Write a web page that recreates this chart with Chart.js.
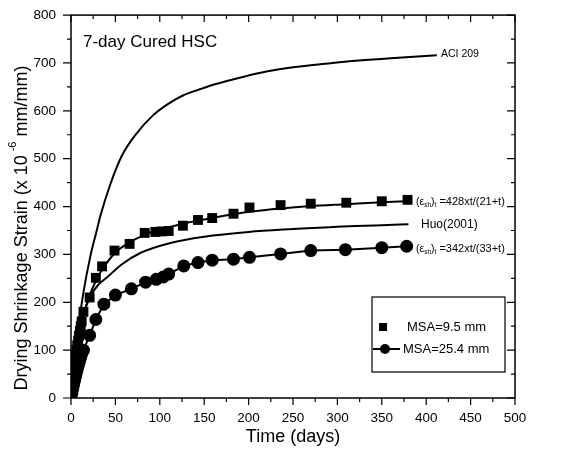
<!DOCTYPE html>
<html>
<head>
<meta charset="utf-8">
<script src="https://cdn.jsdelivr.net/npm/chart.js@4.4.1/dist/chart.umd.min.js"></script>
<style>
  html, body { margin: 0; padding: 0; background: #fff; }
  #wrap { width: 565px; height: 452px; }
</style>
</head>
<body>
<div id="wrap"><canvas id="shrink" width="565" height="452"></canvas></div>
<script>
// ── Datos ────────────────────────────────────────────────────
const aciDays = [0, 3, 7, 13.5, 22, 29, 33, 44, 57, 74, 92, 109, 126, 145, 161, 196, 220, 246, 290, 324, 360, 412];
const aciVals = [0, 62, 130, 215, 298, 350, 380, 445, 505, 553, 590, 614, 632, 645, 655, 672, 682, 690, 699, 705, 710, 716];

const huoDays = [0, 3, 7, 14, 22, 30, 40, 57, 78, 112, 150, 200, 250, 300, 350, 380];
const huoVals = [0, 55, 115, 175, 213, 235, 251, 279, 303, 324, 337, 347, 353, 358, 361, 363];

// curva ajustada 428xt/(21+t)
const fitDays = [0, 2, 5, 10, 14, 21, 28, 35, 49, 63, 84, 100, 126, 150, 183, 201, 236, 270, 310, 350, 379];
const fitVals = [0, 38, 82, 138, 172, 214, 245, 268, 302, 322, 342, 352, 364, 373, 384, 389, 396, 401, 405, 409, 411];

// MSA = 9.5 mm (cuadrados)
const sqDays = [1, 2, 3, 4, 5, 6, 7, 8, 9, 10, 11, 12, 14, 21, 28, 35, 49, 66, 83, 95, 102, 110, 126, 143, 159, 183, 201, 236, 270, 310, 350, 379];
const sqVals = [25, 45, 60, 75, 90, 100, 110, 120, 130, 140, 150, 160, 180, 210, 251, 275, 308, 322, 345, 347, 348, 349, 360, 372, 376, 385, 398, 403, 406, 408, 411, 414];

// MSA = 25.4 mm (círculos)
const ciDays = [0, 1, 2, 3, 4, 5, 6, 7, 8, 9, 10, 11, 12, 14, 21, 28, 37, 50, 68, 84, 96, 104, 110, 127, 143, 159, 183, 201, 236, 270, 309, 350, 378];
const ciVals = [0, 10, 20, 28, 36, 44, 52, 60, 67, 73, 80, 86, 92, 100, 131, 164, 196, 215, 228, 242, 248, 253, 259, 276, 283, 288, 290, 294, 301, 308, 310, 314, 317];

const xTicks = [0, 50, 100, 150, 200, 250, 300, 350, 400, 450, 500];
const yTicks = [0, 100, 200, 300, 400, 500, 600, 700, 800];

const FONT = "'Liberation Sans', Arial, Helvetica, sans-serif";

function pts(days, vals) {
  return days.map((d, i) => ({ x: d, y: vals[i] }));
}

function lineSet(label, days, vals) {
  return {
    label,
    data: pts(days, vals),
    showLine: true,
    borderColor: '#000',
    borderWidth: 2,
    pointRadius: 0,
    cubicInterpolationMode: 'monotone',
  };
}

// ── Texto con subíndices ─────────────────────────────────────
function richText(ctx, x, y, parts) {
  let cx = x;
  parts.forEach(p => {
    ctx.font = `${p.size}px ${FONT}`;
    ctx.fillText(p.t, cx, y + (p.dy || 0));
    cx += ctx.measureText(p.t).width;
  });
}

function formula(ctx, x, y, rest) {
  richText(ctx, x, y, [
    { t: '(ε', size: 10.5 },
    { t: 'sh', size: 6.5, dy: 3 },
    { t: ')', size: 10.5 },
    { t: 't', size: 6.5, dy: 3 },
    { t: ' ' + rest, size: 11 },
  ]);
}

// ── Marco, ticks y anotaciones ───────────────────────────────
const decor = {
  id: 'decor',
  afterDatasetsDraw(chart) {
    const { ctx, chartArea: a, scales: { x, y } } = chart;
    ctx.save();
    ctx.strokeStyle = '#000';
    ctx.fillStyle = '#000';

    ctx.lineWidth = 1.5;
    ctx.strokeRect(a.left, a.top, a.right - a.left, a.bottom - a.top);

    ctx.lineWidth = 1.2;
    ctx.beginPath();
    for (let d = 0; d <= 500; d += 25) {
      const px = x.getPixelForValue(d);
      const len = d % 50 === 0 ? 7 : 4;
      ctx.moveTo(px, a.bottom); ctx.lineTo(px, a.bottom + len);
      ctx.moveTo(px, a.top);    ctx.lineTo(px, a.top + len);
    }
    for (let v = 0; v <= 800; v += 50) {
      const py = y.getPixelForValue(v);
      const len = v % 100 === 0 ? 8 : 4;
      ctx.moveTo(a.left, py);  ctx.lineTo(a.left - len, py);
      ctx.moveTo(a.right, py); ctx.lineTo(a.right - len, py);
    }
    ctx.stroke();

    ctx.textBaseline = 'middle';
    ctx.textAlign = 'left';

    ctx.font = `17px ${FONT}`;
    ctx.fillText('7-day Cured HSC', 83, 42);

    ctx.font = `10.5px ${FONT}`;
    ctx.fillText('ACI 209', 441, 54);

    ctx.font = `12px ${FONT}`;
    ctx.fillText('Huo(2001)', 421, 225);

    formula(ctx, 416, 202, '=428xt/(21+t)');
    formula(ctx, 416, 249, '=342xt/(33+t)');

    // leyenda
    ctx.lineWidth = 1.2;
    ctx.strokeRect(372, 297, 133, 75);
    ctx.fillRect(379, 323, 8, 8);
    ctx.lineWidth = 2;
    ctx.beginPath();
    ctx.moveTo(373, 349); ctx.lineTo(400, 349);
    ctx.stroke();
    ctx.beginPath();
    ctx.arc(385, 349, 5, 0, Math.PI * 2);
    ctx.fill();
    ctx.font = `13px ${FONT}`;
    ctx.fillText('MSA=9.5 mm', 407, 327);
    ctx.fillText('MSA=25.4 mm', 403, 349);

    // títulos de ejes
    ctx.textAlign = 'center';
    ctx.font = `18px ${FONT}`;
    ctx.fillText('Time (days)', (a.left + a.right) / 2, 437);

    ctx.translate(22, 228);
    ctx.rotate(-Math.PI / 2);
    const main = 'Drying Shrinkage Strain (x 10';
    const tail = ' mm/mm)';
    ctx.font = `18px ${FONT}`;
    const wMain = ctx.measureText(main).width;
    const wTail = ctx.measureText(tail).width;
    ctx.font = `11px ${FONT}`;
    const wSup = ctx.measureText('-6').width;
    let sx = -(wMain + wSup + wTail + 4) / 2;
    ctx.textAlign = 'left';
    ctx.font = `18px ${FONT}`;
    ctx.fillText(main, sx, 0);
    sx += wMain + 4;
    ctx.font = `11px ${FONT}`;
    ctx.fillText('-6', sx, -9);
    sx += wSup;
    ctx.font = `18px ${FONT}`;
    ctx.fillText(tail, sx, 0);

    ctx.restore();
  },
};

new Chart(document.getElementById('shrink'), {
  type: 'scatter',
  data: {
    datasets: [
      lineSet('ACI 209', aciDays, aciVals),
      lineSet('Huo(2001)', huoDays, huoVals),
      lineSet('fit 9.5', fitDays, fitVals),
      {
        label: 'MSA=9.5 mm',
        data: pts(sqDays, sqVals),
        pointStyle: 'rect',
        pointRadius: 7,
        backgroundColor: '#000',
        borderColor: '#000',
        borderWidth: 0,
        showLine: false,
      },
      {
        label: 'MSA=25.4 mm',
        data: pts(ciDays, ciVals),
        pointStyle: 'circle',
        pointRadius: 5.5,
        backgroundColor: '#000',
        borderColor: '#000',
        borderWidth: 2,
        showLine: true,
      },
    ],
  },
  options: {
    responsive: false,
    animation: false,
    layout: { padding: { left: 0, right: 50, top: 10, bottom: 0 } },
    plugins: { legend: { display: false }, tooltip: { enabled: false } },
    scales: {
      x: {
        type: 'linear', min: 0, max: 500,
        afterFit: s => { s.height = 54; },
        afterBuildTicks: s => { s.ticks = xTicks.map(v => ({ value: v })); },
        grid: { display: false },
        border: { display: false },
        ticks: { color: '#000', font: { family: FONT, size: 13.5 }, padding: 4, maxRotation: 0 },
      },
      y: {
        type: 'linear', min: 0, max: 800,
        afterFit: s => { s.width = 71; },
        afterBuildTicks: s => { s.ticks = yTicks.map(v => ({ value: v })); },
        grid: { display: false },
        border: { display: false },
        ticks: { color: '#000', font: { family: FONT, size: 13.5 }, padding: 7 },
      },
    },
  },
  plugins: [decor],
});
</script>
</body>
</html>
